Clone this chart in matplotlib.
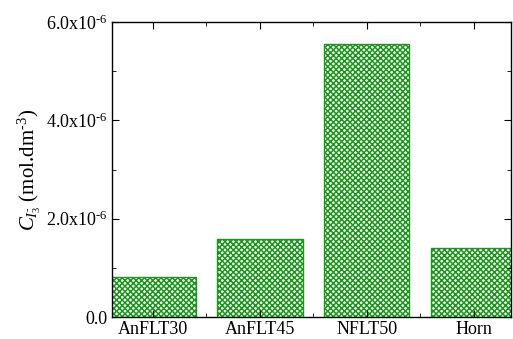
import matplotlib
matplotlib.use("Agg")
import matplotlib.pyplot as plt
from matplotlib.ticker import MultipleLocator, FuncFormatter

categories = ["AnFLT30", "AnFLT45", "NFLT50", "Horn"]
values = [0.81e-6, 1.59e-6, 5.55e-6, 1.40e-6]
ytick_vals = [0.0, 2.0e-6, 4.0e-6, 6.0e-6]

plt.rcParams['font.family'] = ['Liberation Serif', 'DejaVu Serif']
plt.rcParams['mathtext.fontset'] = 'custom'
plt.rcParams['mathtext.rm'] = 'Liberation Serif'
plt.rcParams['mathtext.it'] = 'Liberation Serif:italic'
plt.rcParams['axes.unicode_minus'] = False
plt.rcParams['hatch.linewidth'] = 1.1
plt.rcParams['hatch.color'] = '#1c961c'

fig = plt.figure(figsize=(5.13, 3.39), dpi=100)
ax = fig.add_axes([112/513, 1 - 317/339, (511-112)/513, (317-22)/339])

x = list(range(len(categories)))
ax.bar(x, values, width=0.8, facecolor='white', edgecolor='#1c961c',
       hatch='xxxxxx', linewidth=1.0)

ax.set_xlim(-0.383, 3.35)
ax.set_ylim(0, 6.0e-6)
ax.set_xticks(x)
ax.set_xticklabels(categories, fontsize=13)
ax.set_xticks([0.5, 1.5, 2.5], minor=True)
ax.set_yticks(ytick_vals)

def fmt(v, pos):
    if v == 0:
        return "0.0"
    m = v / 1e-6
    return r"%.1fx10$^{\text{-6}}$" % m

ax.yaxis.set_major_formatter(FuncFormatter(fmt))
ax.yaxis.set_minor_locator(MultipleLocator(1e-6))
ax.tick_params(axis='both', which='both', direction='in', top=True, right=True)
ax.tick_params(axis='both', which='major', length=5, labelsize=13, pad=3)
ax.tick_params(axis='both', which='minor', length=3)
for s in ax.spines.values():
    s.set_linewidth(1.0)

ax.set_ylabel(r"$C_{I_3^{\text{-}}}$ (mol.dm$^{\text{-3}}$)", fontsize=15, labelpad=2)

fig.savefig("out.png", dpi=100)
